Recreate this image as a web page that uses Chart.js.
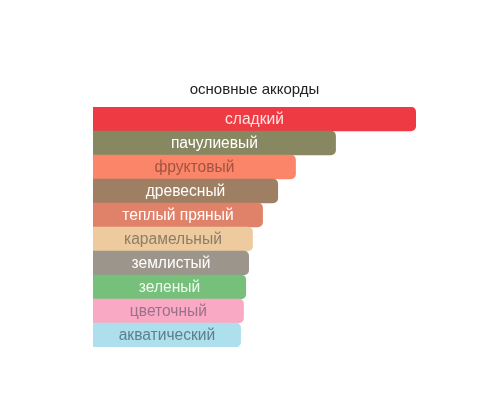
<!DOCTYPE html>
<html>
<head>
<meta charset="utf-8">
<script src="https://cdn.jsdelivr.net/npm/chart.js@4/dist/chart.umd.min.js"></script>
<style>
  html, body { margin: 0; padding: 0; background: #fff; }
  #wrap { width: 500px; height: 400px; }
</style>
</head>
<body>
<div id="wrap"><canvas id="chartAccords"></canvas></div>
<script>
// Данные (ширина аккорда, % от максимального)
const accordLabels = ["сладкий", "пачулиевый", "фруктовый", "древесный", "теплый пряный",
    "карамельный", "землистый", "зеленый", "цветочный", "акватический"];
const accordValues = [100, 75.2, 62.8, 57.3, 52.6, 49.5, 48.3, 47.4, 46.7, 45.8];

// Стили
const barColors = ["#ee3a42", "#878861", "#fa8568", "#9f7f63", "#e0816a",
    "#eecb9f", "#9c958b", "#76c07b", "#faa9c4", "#ade0ec"];
const textColors = ["#fbe4e4", "#ffffff", "#a2533f", "#ffffff", "#ffffff",
    "#8c7c68", "#ffffff", "#effaef", "#9a7186", "#5e7f8c"];

// рисует подписи внутри полос
const barLabels = {
    id: "barLabels",
    afterDatasetsDraw(chart) {
        const ctx = chart.ctx;
        const meta = chart.getDatasetMeta(0);
        ctx.save();
        ctx.font = "15.6px 'Liberation Sans', Arial, sans-serif";
        ctx.textAlign = "center";
        ctx.textBaseline = "middle";
        meta.data.forEach((bar, i) => {
            ctx.fillStyle = textColors[i];
            ctx.fillText(accordLabels[i], (bar.base + bar.x) / 2, bar.y + 1);
        });
        ctx.restore();
    }
};

document.addEventListener("DOMContentLoaded", () => {
    const el = document.getElementById("chartAccords");

    new Chart(el, {
        type: "bar",
        data: {
            labels: accordLabels,
            datasets: [{
                data: accordValues,
                backgroundColor: barColors,
                borderRadius: { topLeft: 0, bottomLeft: 0, topRight: 5, bottomRight: 5 },
                borderSkipped: false,
                barPercentage: 1,
                categoryPercentage: 1.02
            }]
        },
        options: {
            indexAxis: "y",
            responsive: true,
            maintainAspectRatio: false,
            animation: false,
            layout: { padding: { left: 93, right: 84, top: 0, bottom: 53 } },
            plugins: {
                legend: { display: false },
                tooltip: { enabled: false },
                title: {
                    display: true,
                    text: "основные аккорды",
                    color: "#222",
                    font: { family: "'Liberation Sans', Arial, sans-serif", size: 15, weight: "normal" },
                    padding: { top: 81, bottom: 8 }
                }
            },
            scales: {
                x: { display: false, min: 0, max: 100 },
                y: { display: false }
            }
        },
        plugins: [barLabels]
    });
});
</script>
</body>
</html>
